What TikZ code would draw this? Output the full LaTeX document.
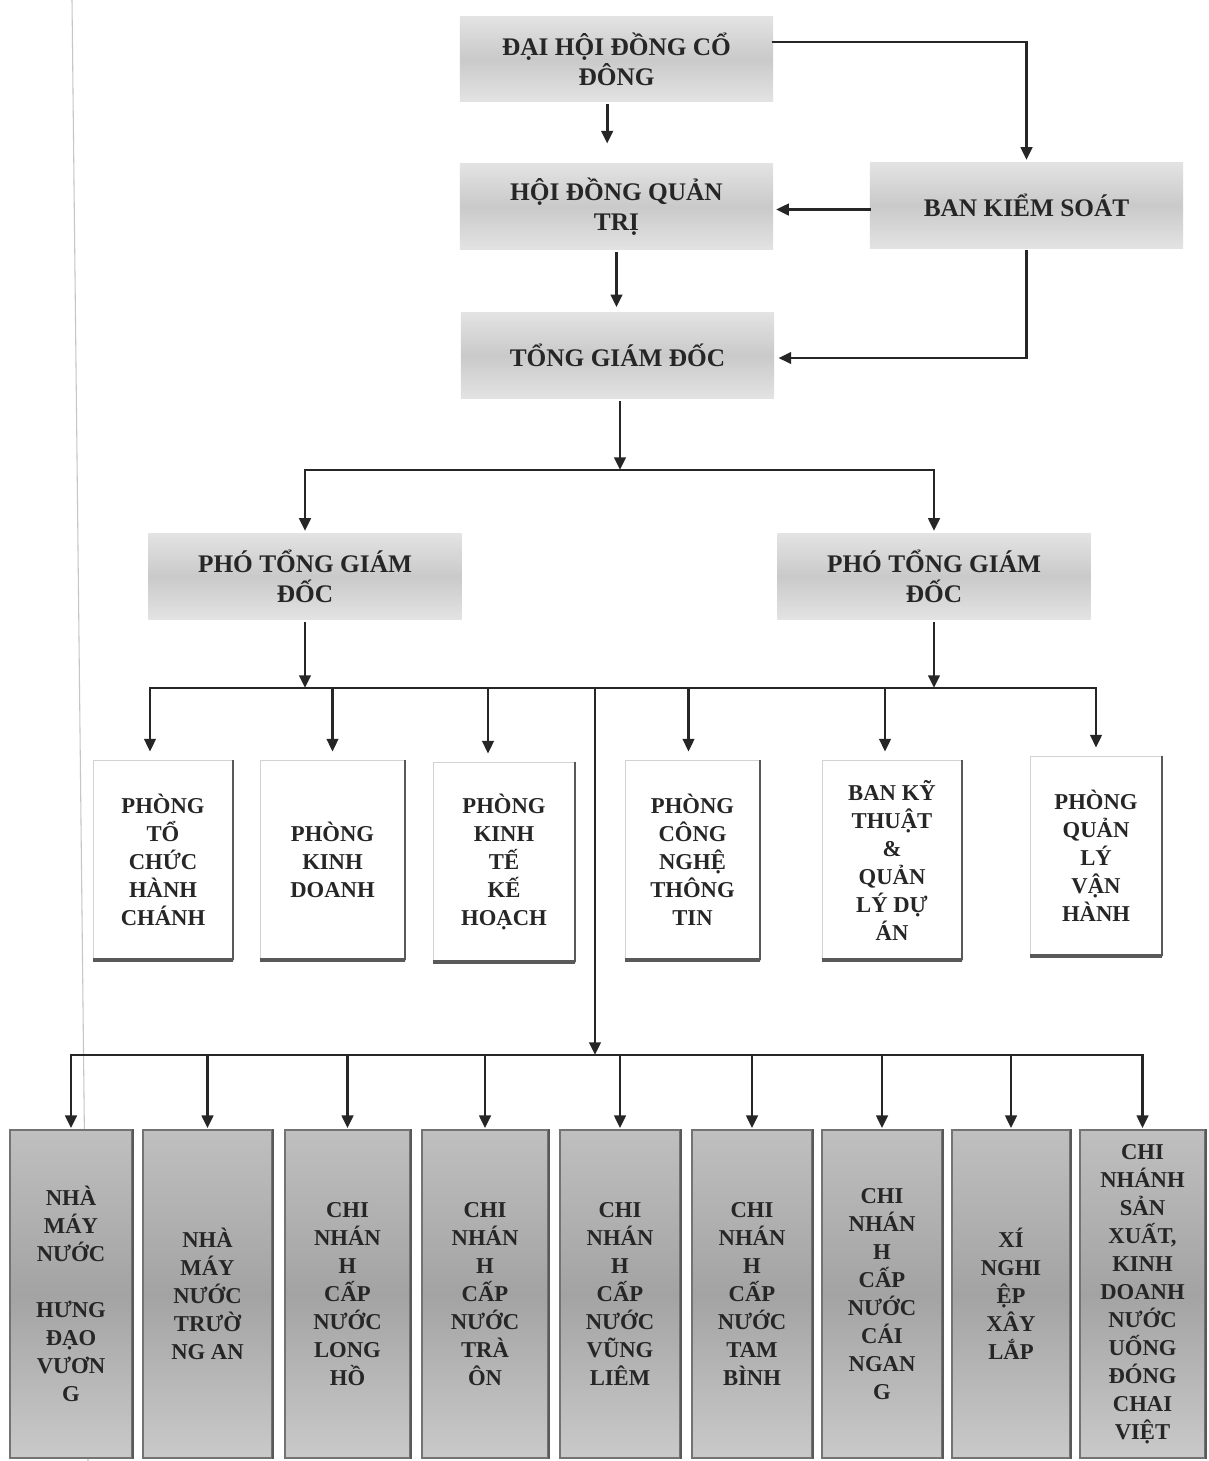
\documentclass[tikz,border=0pt]{standalone}
\usepackage{fontspec}
\setmainfont{Liberation Serif}
\usetikzlibrary{arrows.meta,calc}
\begin{document}
\begin{tikzpicture}[x=0.75pt,y=-0.75pt,
  arr/.style={line width=2.2pt, draw=black!85, line cap=rect, -{Triangle[length=9.5pt,width=8.5pt]}},
  ln/.style={line width=2.2pt, draw=black!85, line cap=rect},
  topbox/.style={rectangle, minimum width=235pt, minimum height=64pt, inner sep=0pt, align=center,
     top color=gray!22, bottom color=gray!22, middle color=gray!42,
     font=\fontsize{19}{22.5}\selectfont\bfseries, text=black!85},
  midbox/.style={rectangle, minimum height=150pt, inner sep=0pt, align=center, fill=white,
     draw=gray!35, line width=0.6pt, font=\fontsize{17}{21}\selectfont\bfseries, text=black!85},
  botbox/.style={rectangle, minimum height=246pt, inner sep=0pt, align=center,
     top color=gray!50, bottom color=gray!42, middle color=gray!72,
     draw=black!55, line width=0.8pt, font=\fontsize{17}{21}\selectfont\bfseries, text=black!85},
  shadowR/.style={draw=black!65, line width=1.5pt},
  shadowB/.style={draw=black!65, line width=3pt},
]
\useasboundingbox (0,0) rectangle (1208,1461);
\fill[white] (0,0) rectangle (1208,1461);
% scan margin line
\draw[gray!45, line width=0.8pt] (72,0) -- (88,1461);

% top level
\node[topbox] (dh) at (616.5,59) {ĐẠI HỘI ĐỒNG CỔ\\ĐÔNG};
\node[topbox] (hd) at (616.5,206.5) {HỘI ĐỒNG QUẢN\\TRỊ};
\node[topbox] (bk) at (1026.5,205.5) {BAN KIỂM SOÁT};
\node[topbox] (tg) at (617.5,355.5) {TỔNG GIÁM ĐỐC};
\node[topbox] (p1) at (305,576.5) {PHÓ TỔNG GIÁM\\ĐỐC};
\node[topbox] (p2) at (934,576.5) {PHÓ TỔNG GIÁM\\ĐỐC};

% middle row
\node[midbox, minimum width=105pt] (m1) at (163,860) {PHÒNG\\TỔ\\CHỨC\\HÀNH\\CHÁNH};
\node[midbox, minimum width=108.75pt] (m2) at (332.5,860) {PHÒNG\\KINH\\DOANH};
\node[midbox, minimum width=106.5pt] (m3) at (504,862) {PHÒNG\\KINH\\TẾ\\KẾ\\HOẠCH};
\node[midbox, minimum width=101.25pt] (m4) at (692.5,860) {PHÒNG\\CÔNG\\NGHỆ\\THÔNG\\TIN};
\node[midbox, minimum width=105pt] (m5) at (892,860) {BAN KỸ\\THUẬT\\\&\\QUẢN\\LÝ DỰ\\ÁN};
\node[midbox, minimum width=99pt] (m6) at (1096,856) {PHÒNG\\QUẢN\\LÝ\\VẬN\\HÀNH};
\foreach \m in {m1,m2,m3,m4,m5,m6}{
  \draw[shadowR] (\m.north east) -- (\m.south east);
  \draw[shadowB] (\m.south west) -- (\m.south east);
}

% bottom row
\node[botbox, minimum width=91.5pt] (b1) at (71,1294) {NHÀ\\MÁY\\NƯỚC\\[21pt]HƯNG\\ĐẠO\\VƯƠN\\G};
\node[botbox, minimum width=96.75pt] (b2) at (207.5,1294) {NHÀ\\MÁY\\NƯỚC\\TRƯỜ\\NG AN};
\node[botbox, minimum width=93.75pt] (b3) at (347.5,1294) {CHI\\NHÁN\\H\\CẤP\\NƯỚC\\LONG\\HỒ};
\node[botbox, minimum width=94.5pt] (b4) at (485,1294) {CHI\\NHÁN\\H\\CẤP\\NƯỚC\\TRÀ\\ÔN};
\node[botbox, minimum width=90pt] (b5) at (620,1294) {CHI\\NHÁN\\H\\CẤP\\NƯỚC\\VŨNG\\LIÊM};
\node[botbox, minimum width=90pt] (b6) at (752,1294) {CHI\\NHÁN\\H\\CẤP\\NƯỚC\\TAM\\BÌNH};
\node[botbox, minimum width=90pt] (b7) at (882,1294) {CHI\\NHÁN\\H\\CẤP\\NƯỚC\\CÁI\\NGAN\\G};
\node[botbox, minimum width=88.5pt] (b8) at (1011,1294) {XÍ\\NGHI\\ỆP\\XÂY\\LẮP};
\node[botbox, minimum width=93.75pt] (b9) at (1142.5,1294) {CHI\\NHÁNH\\SẢN\\XUẤT,\\KINH\\DOANH\\NƯỚC\\UỐNG\\ĐÓNG\\CHAI\\VIỆT};
\foreach \b in {b1,b2,b3,b4,b5,b6,b7,b8,b9}{
  \draw[shadowR] (\b.north east) -- (\b.south east);
}

% connectors, top
\draw[arr, shorten <=3pt, shorten >=15pt] ([xshift=-7pt]dh.south) -- ([xshift=-7pt]hd.north);
\draw[arr, shorten >=2pt] ($(dh.east)+(0,-17)$) -| (bk.north);
\draw[arr, shorten >=2pt] ($(bk.west)+(0,4)$) -- ($(bk.west -| hd.east)+(0,4)$);
\draw[arr, shorten <=3pt, shorten >=4pt] (hd.south) -- (hd.south |- tg.north);
\draw[arr, shorten <=2pt, shorten >=3pt] (bk.south) |- ($(tg.east)+(0,2.5)$);

% TGD to deputies
\coordinate (j1) at (620,470);
\draw[arr, shorten <=3pt] (tg.south -| j1) -- (j1);
\draw[arr, shorten >=2pt] (j1) -| (p1.north);
\draw[arr, shorten >=2pt] (j1) -| (p2.north);

% deputies to departments
\coordinate (j2) at (595,688);
\coordinate (a1) at ($(m1.north)+(-13,0)$);
\coordinate (a2) at ($(m2.north)+(0,0)$);
\coordinate (a3) at ($(m3.north)+(-16,0)$);
\coordinate (a4) at ($(m4.north)+(-4,0)$);
\coordinate (a5) at ($(m5.north)+(-7,0)$);
\coordinate (a6) at ($(m6.north)+(0,0)$);
\draw[arr, shorten <=3pt] (p1.south) -- (p1.south |- j2);
\draw[arr, shorten <=3pt] (p2.south) -- (p2.south |- j2);
\draw[ln] (j2 -| a1) -- (j2 -| a6);
\foreach \a in {a1,a2,a3,a4,a5,a6}{
  \draw[arr, shorten >=6pt] (j2 -| \a) -- (\a);
}

% to branches
\coordinate (j3) at (595,1055);
\draw[arr] (j2) -- (j3);
\draw[ln] (j3 -| b1.north) -- (j3 -| b9.north);
\foreach \b in {b1,b2,b3,b4,b5,b6,b7,b8,b9}{
  \draw[arr, shorten >=1pt] (j3 -| \b.north) -- (\b.north);
}
\end{tikzpicture}
\end{document}
